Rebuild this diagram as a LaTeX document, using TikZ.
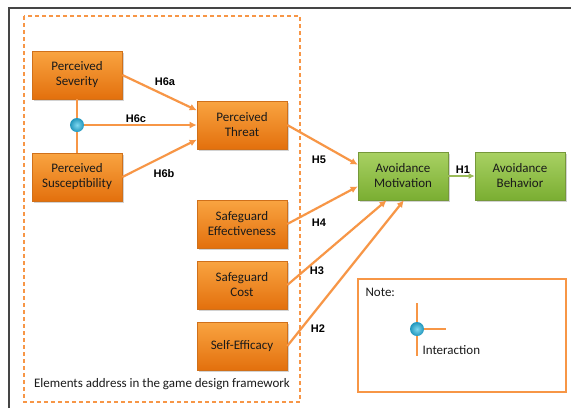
\documentclass[tikz,border=0pt]{standalone}
\usepackage{fontspec}
\setmainfont{Carlito}
\newfontfamily\hfont{Liberation Sans}
\usetikzlibrary{arrows.meta,shadows}
\definecolor{otop}{HTML}{F9A441}
\definecolor{obot}{HTML}{E3700D}
\definecolor{oborder}{HTML}{D0701A}
\definecolor{gtop}{HTML}{A9D163}
\definecolor{gbot}{HTML}{7AAE32}
\definecolor{gborder}{HTML}{76983A}
\definecolor{arr}{HTML}{F79646}
\definecolor{garr}{HTML}{9BBB59}
\definecolor{frame}{HTML}{454545}
\definecolor{txt}{HTML}{1A1A1A}
\definecolor{dotin}{HTML}{7FD8F0}
\definecolor{dotout}{HTML}{2196BC}
\tikzset{
  obox/.style={draw=oborder, line width=0.6pt, top color=otop, bottom color=obot,
    minimum width=90pt, minimum height=48pt, align=center, font=\fontsize{13}{15}\selectfont,
    text=txt, drop shadow={shadow xshift=1.5pt, shadow yshift=-1.5pt, opacity=0.35}},
  gbox/.style={obox, draw=gborder, top color=gtop, bottom color=gbot},
  link/.style={draw=arr, line width=2.2pt, -{Latex[length=7pt,width=7pt]}},
  hlab/.style={font=\hfont\bfseries\fontsize{11}{13}\selectfont, text=black},
  idot/.style={circle, minimum size=14pt, inner sep=0pt, inner color=dotin, outer color=dotout},
  plain/.style={font=\fontsize{13}{15}\selectfont, text=txt},
}
\begin{document}
\begin{tikzpicture}[x=1pt,y=-1pt]
\useasboundingbox (0,0) rectangle (571,408);
\fill[white] (0,0) rectangle (571,408);
% outer frame (partially visible)
\draw[frame, line width=1.6pt] (9,408) -- (9,8) -- (571,8);
% dashed region
\draw[arr, line width=1.2pt, dash pattern=on 4pt off 3pt] (24,16) rectangle (300,402);
\node[plain] (cap) at (162,384) {Elements address in the game design framework};
% boxes
\node[obox] (sev) at (77,75) {Perceived\\Severity};
\node[obox] (sus) at (77,177) {Perceived\\Susceptibility};
\node[obox] (thr) at (242,125) {Perceived\\Threat};
\node[obox] (eff) at (242,224) {Safeguard\\Effectiveness};
\node[obox] (cost) at (242,285) {Safeguard\\Cost};
\node[obox] (self) at (242,346) {Self-Efficacy};
\node[gbox] (am) at (403,176) {Avoidance\\Motivation};
\node[gbox] (ab) at (520,176) {Avoidance\\Behavior};
% interaction
\draw[arr, line width=2.8pt] (sev.south) -- (sus.north);
\node[idot] (dot) at (77,125) {};
% arrows
\draw[link] (sev.east) -- (thr.162);
\draw[link] (dot.east) -- (thr.west);
\draw[link] (sus.east) -- (thr.198);
\draw[link] (thr.east) -- (am.166);
\draw[link] (eff.east) -- (am.193);
\draw[link] (cost.east) -- (am.236);
\draw[link] (self.east) -- (am.272);
\draw[draw=garr, line width=2.2pt, -{Latex[length=6pt,width=6pt]}] (am.east) -- (ab.west);
% labels
\node[hlab] (l6a) at (165,82) {H6a};
\node[hlab] (l6c) at (136,119) {H6c};
\node[hlab] (l6b) at (164,174) {H6b};
\node[hlab] (l5) at (319,160) {H5};
\node[hlab] (l4) at (319,223) {H4};
\node[hlab] (l3) at (317,271) {H3};
\node[hlab] (l2) at (318,329) {H2};
\node[hlab] (l1) at (463,170) {H1};
% note box
\draw[arr, line width=1.3pt] (358,279) rectangle (566,392);
\node[plain, anchor=west] (note) at (362,292) {Note:};
\coordinate (nt) at (417,303);
\coordinate (nb) at (417,356);
\coordinate (nr) at (446,329);
\draw[arr, line width=2.8pt] (nt) -- (nb);
\node[idot] (ndot) at (417,329) {};
\draw[arr, line width=2.8pt] (ndot.east) -- (nr);
\node[plain, anchor=west] (inter) at (419,350) {Interaction};
\end{tikzpicture}
\end{document}
